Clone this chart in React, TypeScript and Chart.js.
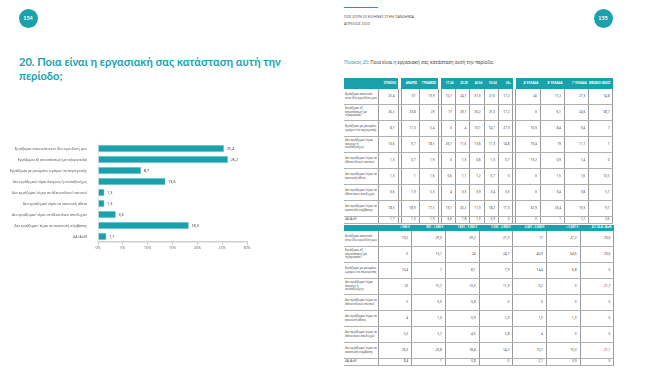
import React, { useEffect, useRef } from "react";
import { Chart, registerables } from "chart.js";

Chart.register(...registerables);

// ---------- data ----------
const categories = [
  "Εργάζομαι κανονικά στον ίδιο εργοδότη μου",
  "Εργάζομαι εξ αποστάσεως (με τηλεργασία)",
  "Εργάζομαι με μειωμένο ωράριο/ εκ περιτροπής",
  "Δεν εργάζομαι/ είμαι άνεργος ή συνταξιούχος",
  "Δεν εργάζομαι/ είμαι σε άδεια ειδικού σκοπού",
  "Δεν εργάζομαι/ είμαι σε κανονική άδεια",
  "Δεν εργάζομαι/ είμαι σε άδεια άνευ αποδοχών",
  "Δεν εργάζομαι/ είμαι σε αναστολή σύμβασης",
  "ΔΑ (Αυθ)",
];
const totals = [25.4, 26.2, 8.7, 13.6, 1.3, 1.3, 3.6, 18.3, 1.7];
const axisMax = 30;
const axisStep = 5;

const table1Headers = [
  "ΣΥΝΟΛΟ", "ΑΝΔΡΕΣ", "ΓΥΝΑΙΚΕΣ",
  "17-24", "25-39", "40-54", "55-64", "65+",
  "Α' ΕΛΛΑΔΑ", "Β' ΕΛΛΑΔΑ", "Γ' ΕΛΛΑΔΑ", "ΜΕΣΑΙΟ/ ΑΝΩΤ.",
];
const table1Men = [31, 23.8, 11.3, 9.7, 0.7, 1, 1.9, 18.9, 1.3];
const table1Women = [19.9, 29, 5.4, 18.5, 1.9, 1.6, 5.3, 17.5, 1.9];
const table1Age1724 = [10.7, 17, 0, 26.7, 0, 6.6, 4, 19.1, 6.6];
const table1Age2539 = [24.7, 29.7, 4, 11.6, 1.3, 1.1, 3.3, 20.2, 1.8];
const table1Age4054 = [31.3, 26.2, 10.1, 13.6, 0.6, 1.2, 3.9, 11.3, 1.3];
const table1Age5564 = [27.6, 25.3, 14.1, 11.3, 1.3, 0.7, 3.4, 18.2, 0.9];
const table1Age65 = [17.2, 17.2, 27.9, 14.8, 0.7, 0, 3.3, 11.3, 0];
const table1RegA = [24, 0, 10.3, 19.4, 13.2, 0, 0, 32.9, 0];
const table1RegB = [17.2, 6.1, 8.4, 19, 0.9, 1.5, 3.4, 23.4, 1];
const table1RegC = [27.3, 24.6, 9.4, 11.7, 1.4, 1.6, 3.8, 19.3, 1.2];
const table1RegD = [14.8, 58.7, 7, 1, 0, 10.5, 5.7, 9.7, 2.6];

const table2Headers = [
  "< 500 €", "501 - 1.000 €", "1.001 - 1.500 €", "1.501 - 2.000 €",
  "2.001 - 3.000 €", "> 3.001 €", "Δ.Γ./Δ.Α. (Αυθ)",
];
const table2Inc1 = [19.2, 0, 10.4, 20, 5, 4, 5.5, 26.3, 8.4];
const table2Inc2 = [29.3, 13.1, 7, 15.7, 0.9, 1.3, 5.7, 23.8, 1];
const table2Inc3 = [29.2, 24, 8.1, 13.3, 0.8, 0.9, 4.6, 18.4, 0.8];
const table2Inc4 = [21.3, 24.7, 7.9, 11.3, 0, 2.3, 5.8, 14.2, 0];
const table2Inc5 = [17, 40.9, 14.4, 3.2, 0, 1.5, 4, 10.7, 2.1];
const table2Inc6 = [27.2, 54.6, 6.8, 0, 0, 1.3, 0, 10.3, 3.9];
const table2Inc7 = [29.6, 29.6, 0, 21.7, 0, 0, 0, 21.1, 0];

// ---------- styles ----------
const TEAL = "#19a2ab";
const fmt = (v: number) => String(v).replace(".", ",");

const valueLabels = {
  id: "valueLabels",
  afterDatasetsDraw(chart: any) {
    const ctx = chart.ctx;
    const meta = chart.getDatasetMeta(0);
    ctx.save();
    ctx.font = "3.8px 'Noto Sans'";
    ctx.fillStyle = "#444";
    ctx.textBaseline = "middle";
    ctx.textAlign = "left";
    meta.data.forEach((bar: any, i: number) => {
      ctx.fillText(fmt(chart.data.datasets[0].data[i]), bar.x + 2.5, bar.y + 0.5);
    });
    ctx.restore();
  },
};

function BarChart() {
  const ref = useRef<HTMLCanvasElement>(null);
  useEffect(() => {
    if (!ref.current) return;
    const chart = new Chart(ref.current, {
      type: "bar",
      data: {
        labels: categories,
        datasets: [
          {
            data: totals,
            backgroundColor: TEAL,
            borderColor: "#8fd3d7",
            borderWidth: 0.6,
            categoryPercentage: 1,
            barPercentage: 0.66,
          },
        ],
      },
      options: {
        indexAxis: "y",
        animation: false,
        responsive: false,
        maintainAspectRatio: false,
        layout: { padding: { top: 7, right: 13, left: 0, bottom: 0 } },
        plugins: { legend: { display: false }, tooltip: { enabled: false } },
        scales: {
          x: {
            min: 0,
            max: axisMax,
            ticks: {
              stepSize: axisStep,
              callback: (v: any) => v + "%",
              font: { size: 3.6, family: "'Noto Sans'" },
              color: "#666",
              padding: 1.5,
            },
            grid: {
              display: true,
              drawOnChartArea: false,
              drawTicks: true,
              tickLength: 2.5,
              color: "#bdbdbd",
            },
            border: { display: true, color: "#cfcfcf", width: 1.5 },
            afterFit: (s: any) => {
              s.height = 12;
            },
          },
          y: {
            ticks: {
              font: { size: 3.5, family: "'Noto Sans'" },
              color: "#555",
              padding: 3,
              autoSkip: false,
            },
            grid: { display: false },
            border: { display: true, color: "#e0e0e0", width: 0.8 },
            afterFit: (s: any) => {
              s.width = 98;
            },
          },
        },
      },
      plugins: [valueLabels],
    });
    return () => chart.destroy();
  }, []);
  return (
    <canvas
      ref={ref}
      width={260}
      height={118}
      style={{ position: "absolute", left: 0, top: 136, width: 260, height: 118 }}
    />
  );
}

const cellBase: React.CSSProperties = {
  padding: 0,
  fontSize: 3.2,
  lineHeight: "3.8px",
  color: "#444",
  overflow: "hidden",
};

function Table1() {
  const cols = [34, 20, 3, 18, 19, 3, 14.4, 14.4, 14.4, 14.4, 14.4, 3, 24.25, 24.25, 24.25, 24.25];
  const groups = [
    [0], [1, 2], [3, 4, 5, 6, 7], [8, 9, 10, 11],
  ];
  const series = [
    totals, table1Men, table1Women, table1Age1724, table1Age2539, table1Age4054,
    table1Age5564, table1Age65, table1RegA, table1RegB, table1RegC, table1RegD,
  ];
  const line = "0.6px solid #9a9a9a";
  const hline = "1px solid #b0b0b0";
  const renderHeader = () => {
    const cells: any[] = [
      <th key="l" style={{ ...cellBase, background: TEAL, height: 11 }} />,
    ];
    groups.forEach((g, gi) => {
      if (gi > 0) cells.push(<th key={"gh" + gi} style={{ ...cellBase, background: "#fff" }} />);
      g.forEach((ci) =>
        cells.push(
          <th
            key={"h" + ci}
            style={{
              ...cellBase,
              background: TEAL,
              color: "#fff",
              fontSize: 2.9,
              lineHeight: "3.2px",
              fontWeight: 700,
              textAlign: "right",
              paddingRight: 2,
            }}
          >
            {table1Headers[ci]}
          </th>
        )
      );
    });
    return <tr>{cells}</tr>;
  };
  return (
    <table
      style={{
        position: "absolute",
        left: 344,
        top: 78,
        width: 269,
        tableLayout: "fixed",
        borderCollapse: "collapse",
        fontFamily: "'Noto Sans', sans-serif",
      }}
    >
      <colgroup>
        {cols.map((w, i) => (
          <col key={i} style={{ width: w }} />
        ))}
      </colgroup>
      <tbody>
        {renderHeader()}
        {categories.map((cat, ri) => {
          const h = ri === categories.length - 1 ? 6 : 15;
          const cells: any[] = [
            <td
              key="l"
              style={{ ...cellBase, height: h, fontSize: 2.9, lineHeight: "3.6px", borderRight: line, borderBottom: hline, paddingLeft: 1 }}
            >
              {cat}
            </td>,
          ];
          groups.forEach((g, gi) => {
            if (gi > 0)
              cells.push(
                <td key={"g" + gi} style={{ ...cellBase, borderLeft: line, borderRight: line, borderBottom: hline }} />
              );
            g.forEach((ci) =>
              cells.push(
                <td
                  key={"c" + ci}
                  style={{ ...cellBase, textAlign: "right", paddingRight: 3, borderRight: line, borderBottom: hline, verticalAlign: "middle" }}
                >
                  {fmt(series[ci][ri])}
                </td>
              )
            );
          });
          return <tr key={ri}>{cells}</tr>;
        })}
      </tbody>
    </table>
  );
}

function Table2() {
  const series = [table2Inc1, table2Inc2, table2Inc3, table2Inc4, table2Inc5, table2Inc6, table2Inc7];
  const line = "0.6px solid #9a9a9a";
  const hline = "1px solid #b0b0b0";
  return (
    <table
      style={{
        position: "absolute",
        left: 344,
        top: 225,
        width: 270,
        tableLayout: "fixed",
        borderCollapse: "collapse",
        fontFamily: "'Noto Sans', sans-serif",
      }}
    >
      <colgroup>
        <col style={{ width: 34 }} />
        {series.map((_, i) => (
          <col key={i} style={{ width: 33.7 }} />
        ))}
      </colgroup>
      <tbody>
        <tr>
          <th style={{ ...cellBase, background: TEAL, height: 6 }} />
          {table2Headers.map((h, i) => (
            <th
              key={i}
              style={{
                ...cellBase,
                background: TEAL,
                color: "#fff",
                fontSize: 2.9,
                fontWeight: 700,
                textAlign: "right",
                paddingRight: 2,
                whiteSpace: "nowrap",
              }}
            >
              {h}
            </th>
          ))}
        </tr>
        {categories.map((cat, ri) => {
          const h = ri === categories.length - 1 ? 6 : 15;
          return (
            <tr key={ri}>
              <td style={{ ...cellBase, height: h, fontSize: 2.9, lineHeight: "3.6px", borderRight: line, borderBottom: hline, paddingLeft: 1 }}>
                {cat}
              </td>
              {series.map((s, ci) => (
                <td
                  key={ci}
                  style={{ ...cellBase, textAlign: "right", paddingRight: 3, borderRight: line, borderBottom: hline }}
                >
                  {fmt(s[ri])}
                </td>
              ))}
            </tr>
          );
        })}
      </tbody>
    </table>
  );
}

function PageNum({ n, x, y }: { n: string; x: number; y: number }) {
  return (
    <div
      style={{
        position: "absolute",
        left: x - 9.5,
        top: y - 9.5,
        width: 19,
        height: 19,
        borderRadius: "50%",
        background: TEAL,
        color: "#fff",
        fontFamily: "Lato, sans-serif",
        fontWeight: 700,
        fontSize: 5.5,
        lineHeight: "19px",
        textAlign: "center",
      }}
    >
      {n}
    </div>
  );
}

export default function App() {
  useEffect(() => {
    document.body.style.margin = "0";
  }, []);
  return (
    <div
      style={{
        position: "fixed",
        left: 0,
        top: 0,
        width: 650,
        height: 370,
        background: "#fff",
        overflow: "hidden",
      }}
    >
      <PageNum n="154" x={28} y={18.5} />
      <div
        style={{
          position: "absolute",
          left: 19,
          top: 55,
          fontFamily: "Lato, sans-serif",
          fontWeight: 700,
          fontSize: 11.1,
          lineHeight: "14px",
          color: "#1c9fb0",
          whiteSpace: "nowrap",
        }}
      >
        20. Ποια είναι η εργασιακή σας κατάσταση αυτή την
        <br />
        περίοδο;
      </div>
      <BarChart />

      {/* right page */}
      <div style={{ position: "absolute", left: 344, top: 6.5, width: 34, height: 1.6, background: TEAL }} />
      <div
        style={{
          position: "absolute",
          left: 344,
          top: 13,
          fontFamily: "'Noto Sans', sans-serif",
          fontSize: 3.6,
          lineHeight: "7px",
          color: "#555",
          whiteSpace: "nowrap",
        }}
      >
        ΠΩΣ ΖΟΥΝ ΟΙ ΕΛΛΗΝΕΣ ΣΤΗΝ ΠΑΝΔΗΜΙΑ
        <br />
        ΑΠΡΙΛΙΟΣ 2020
      </div>
      <PageNum n="155" x={603} y={18} />
      <div
        style={{
          position: "absolute",
          left: 344,
          top: 58.5,
          fontFamily: "'Noto Sans', sans-serif",
          fontSize: 4.6,
          lineHeight: "6px",
          color: "#444",
          whiteSpace: "nowrap",
        }}
      >
        <span style={{ color: TEAL }}>Πίνακας 20:</span> Ποια είναι η εργασιακή σας κατάσταση αυτή την περίοδο;
      </div>
      <Table1 />
      <Table2 />
    </div>
  );
}
